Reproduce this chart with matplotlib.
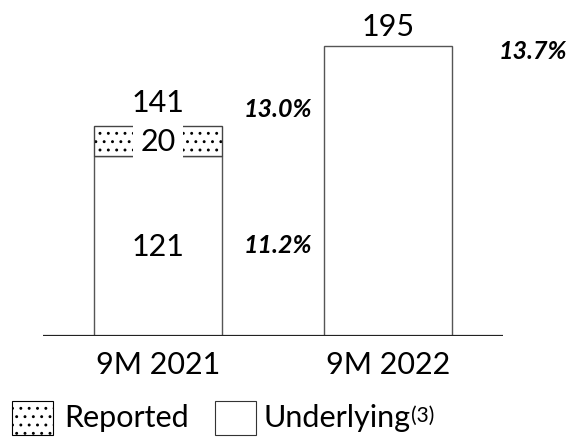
import matplotlib
matplotlib.use('Agg')
import matplotlib.pyplot as plt
from matplotlib.patches import Rectangle

plt.rcParams['font.family'] = ['Lato', 'DejaVu Sans']
plt.rcParams['hatch.linewidth'] = 0.9

# data
categories = ['9M 2021', '9M 2022']
underlying = [121, 195]
reported_extra = [20, 0]
totals = [141, 195]
margin_under = ['11.2%', '13.7%']
margin_rep = ['13.0%', None]

W, H = 575, 439
fig = plt.figure(figsize=(W / 100, H / 100), dpi=100)
ax = fig.add_axes([43 / W, (H - 336.5) / H, 460 / W, 336.5 / H])
ax.set_xlim(-0.5, 1.5)
ax.set_ylim(0, 226.6)
ax.axis('off')
ax.axhline(0, color='#222222', lw=1.6, zorder=5)

x = [0, 1]
bw = 0.555
ax.bar(x, underlying, width=bw, color='white', edgecolor='#555555', lw=1)
ax.bar(x[0], reported_extra[0], bottom=underlying[0], width=bw, color='white',
       edgecolor='black', hatch='..', lw=0)
ax.bar(x[0], reported_extra[0], bottom=underlying[0], width=bw, fill=False,
       edgecolor='#444444', lw=1)

fs = 22
# value labels
ax.text(x[0], underlying[0] / 2, str(underlying[0]), ha='center', va='center', fontsize=fs)
ax.text(x[0], underlying[0] + reported_extra[0] / 2, str(reported_extra[0]), ha='center',
        va='center', fontsize=fs, zorder=4,
        bbox=dict(facecolor='white', edgecolor='none', boxstyle='square,pad=0.25'))
ax.text(x[0], totals[0] + 16, str(totals[0]), ha='center', va='center', fontsize=fs)
ax.text(x[1], totals[1] + 13.5, str(totals[1]), ha='center', va='center', fontsize=fs)

# margins
pfs = 18
ax.text(0.52, 61, margin_under[0], ha='center', va='center', fontsize=pfs,
        weight='bold', style='italic')
ax.text(0.52, 153, margin_rep[0], ha='center', va='center', fontsize=pfs,
        weight='bold', style='italic', zorder=6)
ax.text(1.63, 192, margin_under[1], ha='center', va='center', fontsize=pfs,
        weight='bold', style='italic', clip_on=False)

# category labels
for xi, c in zip(x, categories):
    ax.text(xi, -19.5, c, ha='center', va='center', fontsize=fs)

# legend
fig.patches.append(Rectangle((12 / W, (H - 436) / H), 41 / W, 34 / H, transform=fig.transFigure,
                             facecolor='white', edgecolor='black', hatch='..', lw=0.8))
fig.patches.append(Rectangle((215 / W, (H - 436) / H), 41 / W, 34 / H, transform=fig.transFigure,
                             facecolor='white', edgecolor='#333333', lw=0.8))
fig.text(64 / W, (H - 418) / H, 'Reported', ha='left', va='center', fontsize=fs)
t = fig.text(264 / W, (H - 418) / H, 'Underlying', ha='left', va='center', fontsize=fs)
ax.annotate('(3)', xy=(1.0, 0.95), xycoords=t, ha='left', va='top', fontsize=15)

fig.savefig('out.png', dpi=100)
